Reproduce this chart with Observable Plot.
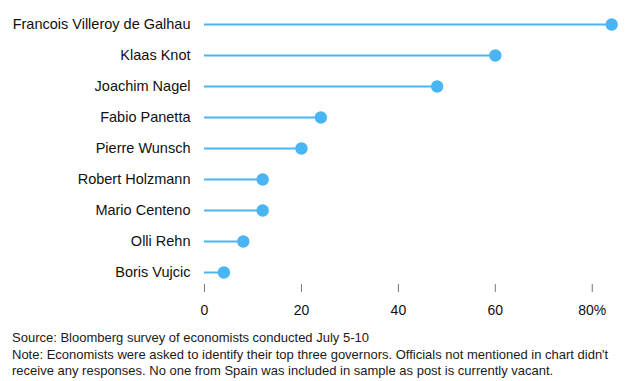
<!DOCTYPE html>
<html>
<head>
<meta charset="utf-8">
<script src="https://cdn.jsdelivr.net/npm/d3@7"></script>
<script src="https://cdn.jsdelivr.net/npm/@observablehq/plot@0.6"></script>
<style>
  body { margin: 0; background: #fff; font-family: "Liberation Sans", Arial, sans-serif; }
  #chart svg { display: block; }
  #caption { font-size: 13px; line-height: 16.5px; color: #1a1a1a; padding-left: 12px; width: 605px; margin-top: 6px; }
</style>
</head>
<body>
<div id="chart"></div>
<div id="caption">Source: Bloomberg survey of economists conducted July 5-10<br>Note: Economists were asked to identify their top three governors. Officials not mentioned in chart didn't receive any responses. No one from Spain was included in sample as post is currently vacant.</div>
<script>
const governors = ["Francois Villeroy de Galhau", "Klaas Knot", "Joachim Nagel", "Fabio Panetta", "Pierre Wunsch", "Robert Holzmann", "Mario Centeno", "Olli Rehn", "Boris Vujcic"];
const shares = [84, 60, 48, 24, 20, 12, 12, 8, 4];
const xTicks = [0, 20, 40, 60, 80];

const data = governors.map((name, i) => ({name, value: shares[i]}));
const blue = "#4ab5f3";

const chart = Plot.plot({
  width: 632,
  height: 324,
  marginLeft: 204,
  marginRight: 16,
  marginTop: 0,
  marginBottom: 40,
  style: {fontFamily: "'Liberation Sans', Arial, sans-serif", fontSize: "14.5px", color: "#111", background: "#fff"},
  x: {domain: [0, 85]},
  y: {type: "point", domain: governors, range: [22.7, 273.3], padding: 0},
  marks: [
    Plot.ruleY(data, {y: "name", x1: 0, x2: "value", stroke: blue, strokeWidth: 2}),
    Plot.dot(data, {y: "name", x: "value", r: 6.2, fill: blue, stroke: "none"}),
    Plot.axisY({tickSize: 0, tickPadding: 14, fontSize: 14.5, label: null}),
    Plot.axisX({ticks: xTicks, tickFormat: d => d === 80 ? "80%" : String(d), tickSize: 8, tickPadding: 13, stroke: "#777", fontSize: 14, label: null})
  ]
});
document.getElementById("chart").appendChild(chart);
</script>
</body>
</html>
